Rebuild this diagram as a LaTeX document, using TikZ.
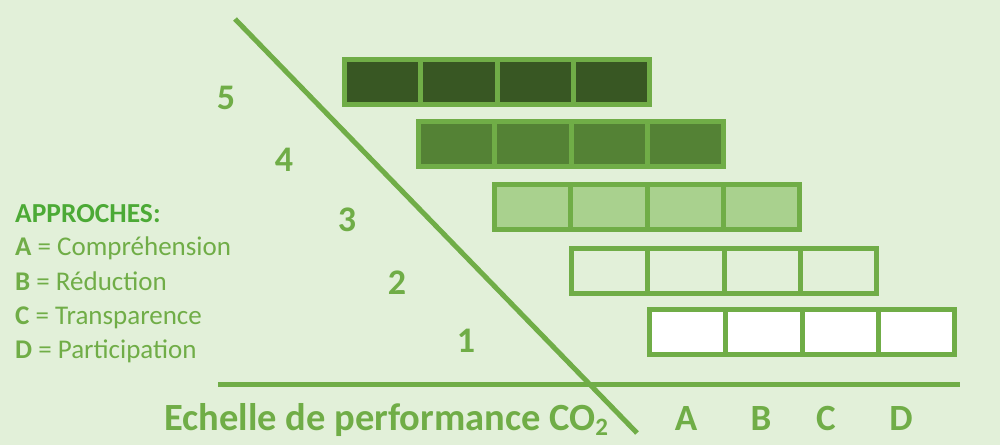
\documentclass[tikz,border=0pt]{standalone}
\usepackage{fontspec}
\setmainfont{Carlito}
\definecolor{bg}{HTML}{E2F0D9}
\definecolor{lgreen}{HTML}{70AD47}
\definecolor{hgreen}{HTML}{4CAA36}
\definecolor{f5}{HTML}{385723}
\definecolor{f4}{HTML}{548235}
\definecolor{f3}{HTML}{A9D18E}
\definecolor{f1}{HTML}{FFFFFF}
\begin{document}
\begin{tikzpicture}[x=1pt,y=-1pt,
  axisline/.style={draw=lgreen,line width=5pt},
  cellbox/.style={draw=lgreen,line width=5pt,minimum width=76.25pt,minimum height=45pt,inner sep=0pt,outer sep=0pt,anchor=north west},
  level/.style={text=lgreen,font=\bfseries\fontsize{36}{36}\selectfont,inner sep=0pt,text depth=0pt,anchor=center},
  approach/.style={text=lgreen,font=\bfseries\fontsize{37}{37}\selectfont,inner sep=0pt,anchor=base},
  legend/.style={text=lgreen,font=\fontsize{27}{27}\selectfont,inner sep=0pt,anchor=base west},
  legendtitle/.style={text=hgreen,font=\bfseries\fontsize{27.5}{27.5}\selectfont,inner sep=0pt,anchor=base west},
  title/.style={text=lgreen,font=\bfseries\fontsize{38.5}{38.5}\selectfont,inner sep=0pt,anchor=base west}]
\fill[bg] (0,0) rectangle (1000,445);
\useasboundingbox (0,0) rectangle (1000,445);
% bars
\foreach \r/\x/\y/\c in {5/342/57/f5,4/416/119/f4,3/492/182/f3,2/569/246/bg,1/647/307/f1}{
  \foreach \k in {0,1,2,3}{
    \node[cellbox,fill=\c] (cell\r\k) at ({\x+2.5+\k*76.25},{\y+2.5}) {};
  }
}
% axes
\coordinate (d1) at (235,19);
\coordinate (d2) at (637,433);
\coordinate (h1) at (218,384);
\coordinate (h2) at (960,384);
\draw[axisline] (h1) -- (h2);
\draw[axisline] (d1) -- (d2);
% levels
\node[level] (n5) at (226,98) {5};
\node[level] (n4) at (284,160) {4};
\node[level] (n3) at (347,220) {3};
\node[level] (n2) at (397,283) {2};
\node[level] (n1) at (466,341) {1};
% approaches
\node[approach] (la) at (686,430) {A};
\node[approach] (lb) at (761,430) {B};
\node[approach] (lc) at (826,430) {C};
\node[approach] (ld) at (901,430) {D};
% title
\node[title] (ttl) at (164,430) {Echelle de performance CO\raisebox{-0.3ex}{\fontsize{25}{25}\selectfont 2}};
% legend
\node[legendtitle] (lt) at (15,222) {APPROCHES:};
\node[legend] (l1) at (15,255) {\textbf{A} = Compréhension};
\node[legend] (l2) at (15,290) {\textbf{B} = Réduction};
\node[legend] (l3) at (15,324) {\textbf{C} = Transparence};
\node[legend] (l4) at (15,358) {\textbf{D} = Participation};
\end{tikzpicture}
\end{document}
